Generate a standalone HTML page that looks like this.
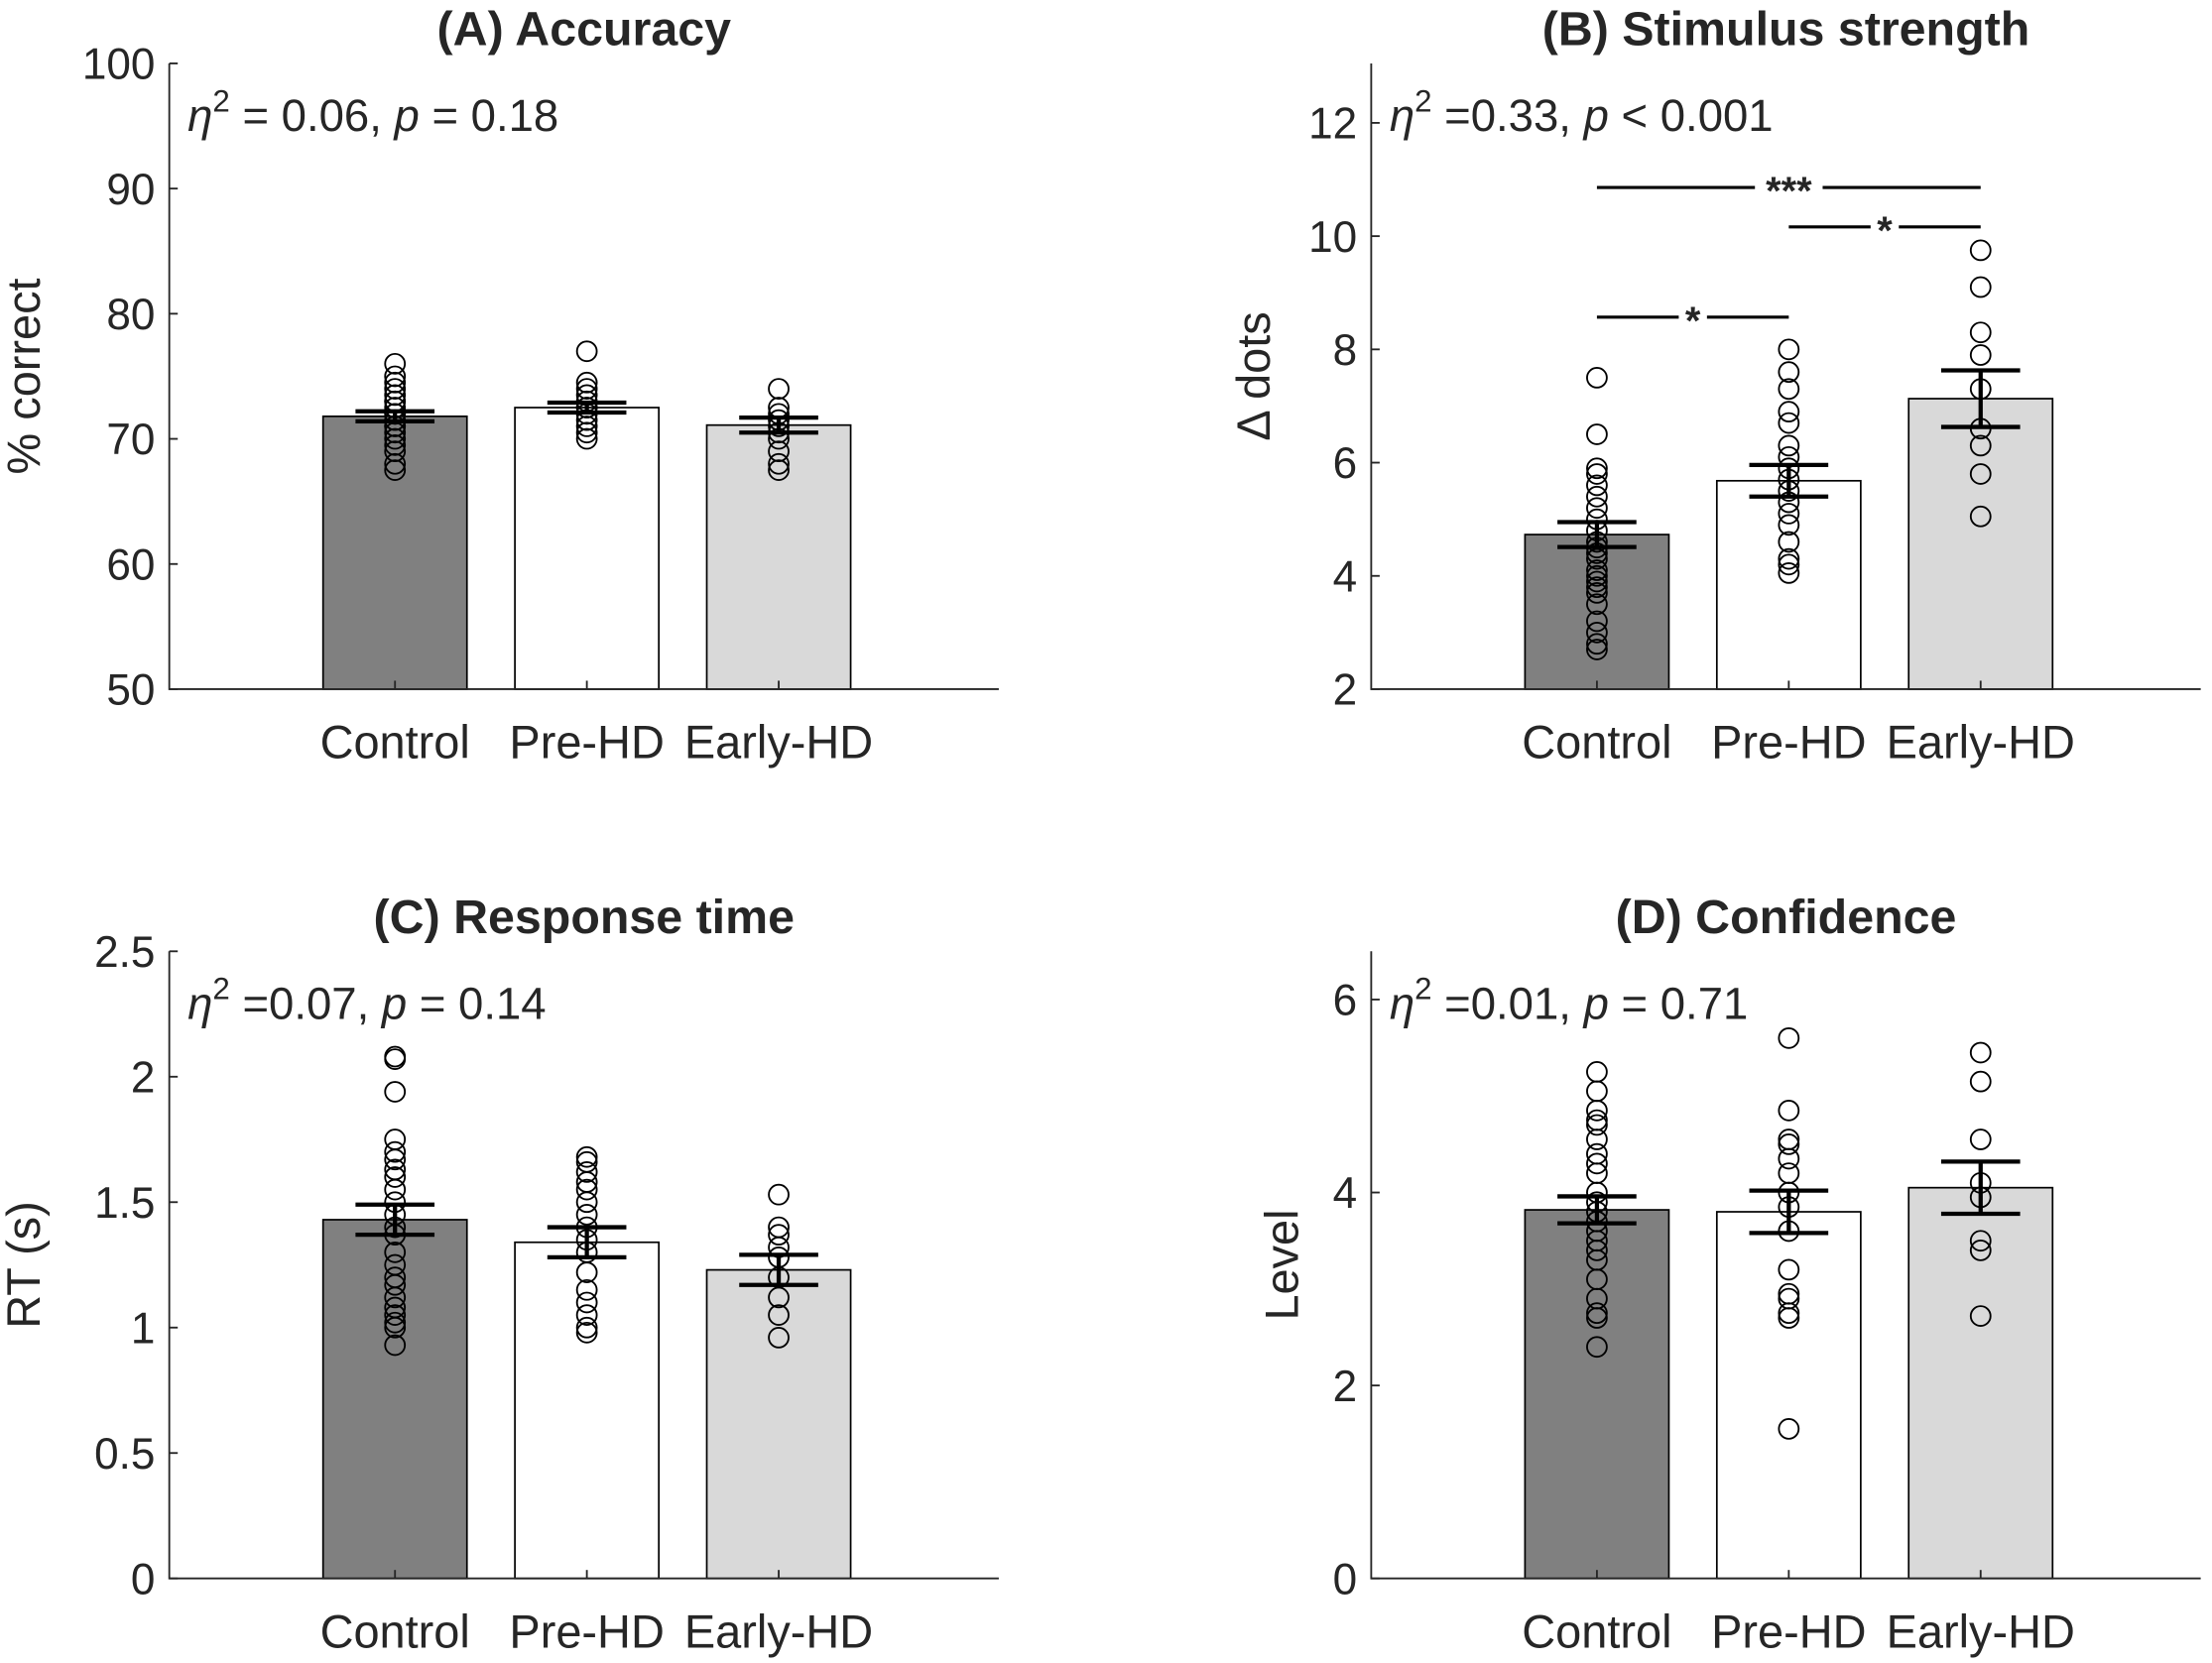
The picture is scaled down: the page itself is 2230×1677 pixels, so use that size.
<!DOCTYPE html>
<html><head><meta charset="utf-8"><style>
html,body{margin:0;padding:0;background:#fff}
svg{display:block}
text{font-family:"Liberation Sans",Arial,sans-serif;fill:#262626}
</style></head><body>
<svg id="fig" width="2230" height="1677" viewBox="0 0 1568 1180" preserveAspectRatio="none" xmlns="http://www.w3.org/2000/svg"></svg>
<script>
const categories = ["Control","Pre-HD","Early-HD"];
const barColors = ["#808080","#ffffff","#d9d9d9"];
// Panel A
const accMeans = [71.8, 72.5, 71.1];
const accErr = [0.4, 0.4, 0.6];
const accCtrl = [76,75,74.5,74,73.5,73,72.5,72,71.5,71,70.5,70,69.5,69,68,67.5,72,73,71];
const accPre = [77,74.5,74,73.5,73,72.5,72,71.5,71,70.5,70,72.5];
const accEarly = [74,72.5,72,71.5,71,70.5,70,69,68,67.5];
const accTicks = [50,60,70,80,90,100];
// Panel B
const stimMeans = [4.73, 5.68, 7.13];
const stimErr = [0.22, 0.28, 0.5];
const stimCtrl = [7.5,6.5,5.9,5.8,5.6,5.4,5.2,5,4.8,4.6,4.5,4.3,4.1,4,3.9,3.7,3.5,3.2,3,2.8,2.7,4.4,3.8];
const stimPre = [8,7.6,7.3,6.9,6.7,6.3,6.1,5.9,5.7,5.5,5.3,5.1,4.9,4.6,4.3,4.2,4.05];
const stimEarly = [9.75,9.1,8.3,7.9,7.3,6.6,6.3,5.8,5.05];
const stimTicks = [2,4,6,8,10,12];
// Panel C
const rtMeans = [1.43, 1.34, 1.23];
const rtErr = [0.06, 0.06, 0.06];
const rtCtrl = [2.08,2.07,1.94,1.75,1.7,1.67,1.63,1.6,1.55,1.5,1.45,1.4,1.37,1.3,1.2,1.17,1.12,1.08,1.05,1.02,1,0.93,1.25];
const rtPre = [1.68,1.66,1.62,1.58,1.55,1.5,1.45,1.4,1.35,1.3,1.22,1.15,1.1,1.05,1,0.98];
const rtEarly = [1.53,1.4,1.37,1.32,1.28,1.2,1.12,1.05,0.96];
const rtTicks = [0,0.5,1,1.5,2,2.5];
// Panel D
const confMeans = [3.82, 3.8, 4.05];
const confErr = [0.14, 0.22, 0.27];
const confCtrl = [5.25,5.05,4.85,4.75,4.7,4.55,4.4,4.2,4,3.9,3.8,3.7,3.6,3.5,3.3,3.1,2.9,2.75,2.7,2.4,4.3,3.4];
const confPre = [5.6,4.85,4.55,4.5,4.35,4.2,4,3.85,3.6,3.2,2.95,2.9,2.75,2.7,1.55];
const confEarly = [5.45,5.15,4.55,4.1,3.95,3.5,3.4,2.72];
const confTicks = [0,2,4,6];

const NS="http://www.w3.org/2000/svg";
const svg=document.getElementById('fig');
function mk(tag,attrs,parent){const e=document.createElementNS(NS,tag);for(const k in attrs)e.setAttribute(k,attrs[k]);(parent||svg).appendChild(e);return e;}

function panel(opt){
  const g=mk('g',{});
  
  
  const x0=opt.x0,x1=opt.x0+588,yT=opt.yTop,yB=opt.yBot;
  const ys=v=>yB-(v-opt.min)/(opt.max-opt.min)*(yB-yT);
  const xs=i=>x0+160+i*136;
  categories.forEach((c,i)=>{
    const r=mk('rect',{x:xs(i)-51,y:ys(opt.means[i]),width:102,height:yB-ys(opt.means[i]),fill:barColors[i],stroke:'#000','stroke-width':1.2},g);
    
    
  });
  opt.pts.forEach((arr,i)=>arr.forEach(v=>{
    const p=mk('circle',{cx:xs(i),cy:ys(v),r:7,fill:'none',stroke:'#000','stroke-width':1.3},g);
    
    
  }));
  categories.forEach((c,i)=>{
    const m=opt.means[i],e=opt.err[i],x=xs(i);
    const eb=mk('path',{d:`M${x},${ys(m-e)}V${ys(m+e)}M${x-28},${ys(m-e)}H${x+28}M${x-28},${ys(m+e)}H${x+28}`,stroke:'#000','stroke-width':3,fill:'none'},g);
    
    
  });
  const ax=mk('path',{d:`M${x0},${yT}V${yB}H${x1}`,stroke:'#262626','stroke-width':1.3,fill:'none'},g);
  
  
  opt.ticks.forEach(t=>{
    mk('line',{x1:x0,x2:x0+6,y1:ys(t),y2:ys(t),stroke:'#262626','stroke-width':1.3},g);
    const tl=mk('text',{x:x0-10,y:ys(t)+11,'text-anchor':'end','font-size':31},g);
    tl.textContent=t;
    
    
  });
  categories.forEach((c,i)=>{
    mk('line',{x1:xs(i),x2:xs(i),y1:yB,y2:yB-6,stroke:'#262626','stroke-width':1.3},g);
    const xl=mk('text',{x:xs(i),y:yB+49,'text-anchor':'middle','font-size':33},g);
    xl.textContent=c;
    
    
  });
  const t=mk('text',{x:x0+294,y:yT-13,'text-anchor':'middle','font-size':34,'font-weight':'bold',fill:'#000'},g);
  t.textContent=opt.title;
  
  
  const yl=mk('text',{x:0,y:0,'text-anchor':'middle','font-size':33,transform:`translate(${opt.ylx},${(yT+yB)/2}) rotate(-90)`},g);
  yl.textContent=opt.ylabel;
  
  
  const st=mk('text',{x:x0+13,y:yT+48,'font-size':32,fill:'#000'},g);
  st.innerHTML=`<tspan font-style="italic">η</tspan><tspan dy="-14" font-size="22">2</tspan><tspan dy="14"> ${opt.eta} </tspan><tspan font-style="italic">p</tspan><tspan> ${opt.p}</tspan>`;
  
  
  return {g,xs,ys};
}

panel({name:'panel-accuracy',x0:120,yTop:45,yBot:489,min:50,max:100,means:accMeans,err:accErr,pts:[accCtrl,accPre,accEarly],ticks:accTicks,title:'(A) Accuracy',ylabel:'% correct',ylx:28,eta:'= 0.06,',p:'= 0.18'});
const pb=panel({name:'panel-stimulus-strength',x0:972,yTop:45,yBot:489,min:2,max:13.05,means:stimMeans,err:stimErr,pts:[stimCtrl,stimPre,stimEarly],ticks:stimTicks,title:'(B) Stimulus strength',ylabel:'Δ dots',ylx:900,eta:'=0.33,',p:'< 0.001'});
panel({name:'panel-response-time',x0:120,yTop:675,yBot:1120,min:0,max:2.5,means:rtMeans,err:rtErr,pts:[rtCtrl,rtPre,rtEarly],ticks:rtTicks,title:'(C) Response time',ylabel:'RT (s)',ylx:28,eta:'=0.07,',p:'= 0.14'});
panel({name:'panel-confidence',x0:972,yTop:675,yBot:1120,min:0,max:6.5,means:confMeans,err:confErr,pts:[confCtrl,confPre,confEarly],ticks:confTicks,title:'(D) Confidence',ylabel:'Level',ylx:920,eta:'=0.01,',p:'= 0.71'});

const sigPairs=[[0,2,133,'***'],[1,2,161,'*'],[0,1,225,'*']];
sigPairs.forEach(s=>{
  const xa=pb.xs(s[0]),xb=pb.xs(s[1]),mid=(xa+xb)/2,gap=s[3].length>1?24:10;
  const l=mk('path',{d:`M${xa},${s[2]}H${mid-gap}M${mid+gap},${s[2]}H${xb}`,stroke:'#000','stroke-width':2.2,fill:'none'},pb.g);
  
  
  const tx=mk('text',{x:mid,y:s[2]+12,'text-anchor':'middle','font-size':28,'font-weight':'bold',fill:'#000'},pb.g);
  tx.textContent=s[3];
  
  
});
</script>
</body></html>
